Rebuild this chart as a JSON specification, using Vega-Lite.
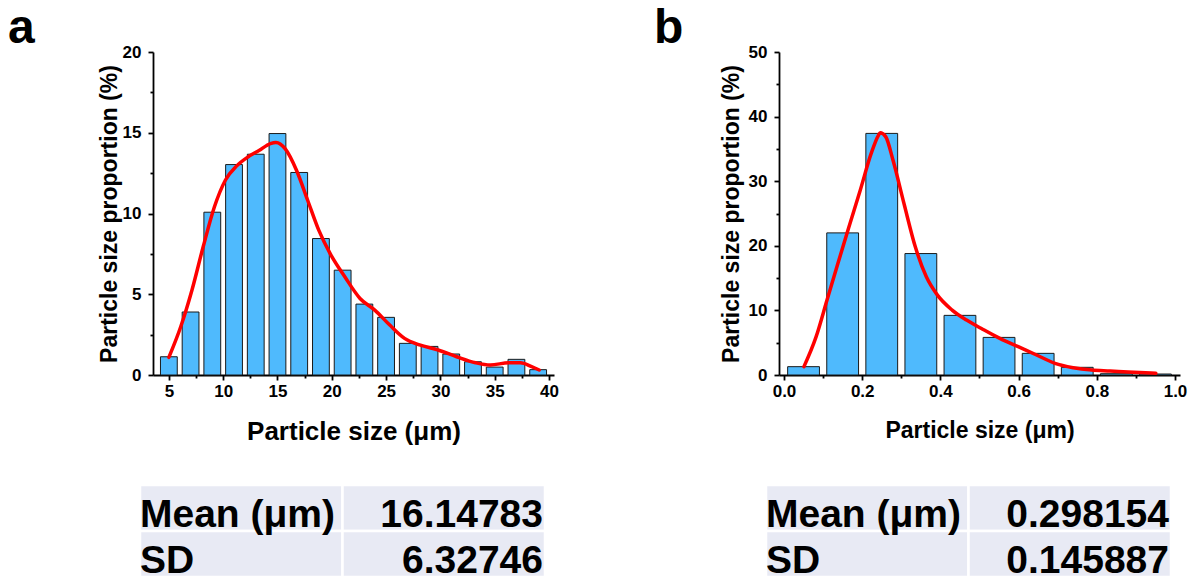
{
  "$schema": "https://vega.github.io/schema/vega-lite/v6.json",
  "background": "white",
  "padding": {"left": 8, "top": 5, "right": 5, "bottom": 0},
  "config": {
    "font": "Liberation Sans",
    "view": {"stroke": null},
    "title": {"fontSize": 48, "font": "Liberation Sans", "fontWeight": "bold", "anchor": "start", "frame": "bounds", "color": "black", "offset": -10},
    "axis": {
      "labelFont": "Liberation Sans", "labelFontWeight": "bold", "labelFontSize": 17, "labelColor": "black",
      "titleFont": "Liberation Sans", "titleFontWeight": "bold", "titleColor": "black",
      "domainColor": "black", "tickColor": "black", "domainWidth": 1.8, "tickWidth": 1.8, "tickSize": 5,
      "grid": false, "labelPadding": 3
    },
    "axisY": {"labelPadding": 7}
  },
  "spacing": 95,
  "hconcat": [
    {
      "title": {"text": "a", "dx": -90},
      "spacing": 39,
      "vconcat": [
        {
          "width": 401, "height": 323,
          "layer": [
            {
              "data": {"values": [
                {"size": 5, "pct": 1.13}, {"size": 7, "pct": 3.9}, {"size": 9, "pct": 10.08},
                {"size": 11, "pct": 13.03}, {"size": 13, "pct": 13.67}, {"size": 15, "pct": 14.95},
                {"size": 17, "pct": 12.54}, {"size": 19, "pct": 8.45}, {"size": 21, "pct": 6.49},
                {"size": 23, "pct": 4.39}, {"size": 25, "pct": 3.57}, {"size": 27, "pct": 1.96},
                {"size": 29, "pct": 1.77}, {"size": 31, "pct": 1.3}, {"size": 33, "pct": 0.82},
                {"size": 35, "pct": 0.49}, {"size": 37, "pct": 0.97}, {"size": 39, "pct": 0.33}
              ]},
              "mark": {"type": "bar", "width": 16.8, "fill": "#4FBAFD", "stroke": "#1a1a1a", "strokeWidth": 1},
              "encoding": {
                "x": {"field": "size", "type": "quantitative",
                  "scale": {"domain": [4, 40], "nice": false, "zero": false},
                  "axis": {"values": [5, 10, 15, 20, 25, 30, 35, 40], "title": "Particle size (μm)", "titleFontSize": 26, "titlePadding": 19}},
                "y": {"field": "pct", "type": "quantitative",
                  "scale": {"domain": [0, 20], "nice": false},
                  "axis": {"values": [0, 5, 10, 15, 20], "title": "Particle size proportion (%)", "titleFontSize": 23, "titlePadding": 1}}
              }
            },
            {
              "data": {"values": [
                {"x": 5.0, "y": 1.09}, {"x": 6.1, "y": 3.0}, {"x": 7.13, "y": 5.26}, {"x": 8.16, "y": 7.94},
                {"x": 9.19, "y": 10.4}, {"x": 10.2, "y": 12.06}, {"x": 11.25, "y": 12.95}, {"x": 12.28, "y": 13.5},
                {"x": 13.3, "y": 13.9}, {"x": 14.35, "y": 14.33}, {"x": 14.86, "y": 14.4}, {"x": 15.72, "y": 14.0},
                {"x": 16.75, "y": 12.68}, {"x": 17.78, "y": 10.82}, {"x": 18.8, "y": 8.97}, {"x": 19.84, "y": 7.53},
                {"x": 21.2, "y": 6.08}, {"x": 22.6, "y": 4.74}, {"x": 23.96, "y": 4.02}, {"x": 25.34, "y": 3.09},
                {"x": 26.7, "y": 2.27}, {"x": 28.08, "y": 1.86}, {"x": 29.8, "y": 1.55}, {"x": 31.5, "y": 1.13},
                {"x": 33.24, "y": 0.76}, {"x": 34.6, "y": 0.62}, {"x": 36.3, "y": 0.76}, {"x": 37.36, "y": 0.76},
                {"x": 38.4, "y": 0.52}, {"x": 39.1, "y": 0.31}
              ]},
              "mark": {"type": "line", "color": "#FF0000", "strokeWidth": 3.5, "interpolate": "monotone", "strokeCap": "round"},
              "encoding": {
                "x": {"field": "x", "type": "quantitative",
                  "axis": {"orient": "bottom", "values": [7.5, 12.5, 17.5, 22.5, 27.5, 32.5, 37.5], "labels": false, "domain": false, "title": null, "tickSize": 3}},
                "y": {"field": "y", "type": "quantitative",
                  "axis": {"orient": "left", "values": [2.5, 7.5, 12.5, 17.5], "labels": false, "domain": false, "title": null, "tickSize": 3}}
              }
            }
          ],
          "resolve": {"axis": {"x": "independent", "y": "independent"}}
        },
        {
          "width": 405, "height": 92,
          "data": {"values": [
            {"stat": "Mean (μm)", "value": "16.14783"},
            {"stat": "SD", "value": "6.32746"}
          ]},
          "layer": [
            {
              "transform": [{"fold": ["stat", "value"], "as": ["col", "txt"]}],
              "mark": {"type": "rect", "fill": "#E8EAF4", "stroke": "white", "strokeWidth": 2.5, "xOffset": -13},
              "encoding": {
                "x": {"field": "col", "type": "nominal", "scale": {"domain": ["stat", "value"], "paddingInner": 0, "paddingOuter": 0}, "axis": null},
                "y": {"field": "stat", "type": "nominal", "sort": null, "scale": {"paddingInner": 0, "paddingOuter": 0}, "axis": null}
              }
            },
            {
              "mark": {"type": "text", "align": "left", "baseline": "alphabetic", "fontSize": 39, "fontWeight": "bold", "color": "black", "xOffset": -13, "dy": 19},
              "encoding": {
                "x": {"datum": "stat", "type": "nominal", "bandPosition": 0},
                "y": {"field": "stat", "type": "nominal", "sort": null},
                "text": {"field": "stat"}
              }
            },
            {
              "mark": {"type": "text", "align": "right", "baseline": "alphabetic", "fontSize": 39, "fontWeight": "bold", "color": "black", "xOffset": -15, "dy": 19},
              "encoding": {
                "x": {"datum": "value", "type": "nominal", "bandPosition": 1},
                "y": {"field": "stat", "type": "nominal", "sort": null},
                "text": {"field": "value"}
              }
            }
          ]
        }
      ]
    },
    {
      "title": {"text": "b", "dx": -66},
      "spacing": 41,
      "vconcat": [
        {
          "width": 401, "height": 323,
          "layer": [
            {
              "data": {"values": [
                {"size": 0.05, "pct": 1.29}, {"size": 0.15, "pct": 22.0}, {"size": 0.25, "pct": 37.4},
                {"size": 0.35, "pct": 18.8}, {"size": 0.45, "pct": 9.23}, {"size": 0.55, "pct": 5.82},
                {"size": 0.65, "pct": 3.35}, {"size": 0.75, "pct": 1.19}, {"size": 0.85, "pct": 0.2},
                {"size": 0.95, "pct": 0.15}
              ]},
              "mark": {"type": "bar", "width": 31.8, "fill": "#4FBAFD", "stroke": "#1a1a1a", "strokeWidth": 1},
              "encoding": {
                "x": {"field": "size", "type": "quantitative",
                  "scale": {"domain": [0, 1], "nice": false, "zero": false},
                  "axis": {"values": [0, 0.2, 0.4, 0.6, 0.8, 1.0], "format": ".1f", "title": "Particle size (μm)", "titleFontSize": 23, "titlePadding": 20}},
                "y": {"field": "pct", "type": "quantitative",
                  "scale": {"domain": [0, 50], "nice": false},
                  "axis": {"values": [0, 10, 20, 30, 40, 50], "title": "Particle size proportion (%)", "titleFontSize": 23, "titlePadding": 5}}
              }
            },
            {
              "data": {"values": [
                {"x": 0.051, "y": 1.29}, {"x": 0.082, "y": 5.9}, {"x": 0.11, "y": 11.6}, {"x": 0.138, "y": 17.3},
                {"x": 0.166, "y": 22.9}, {"x": 0.195, "y": 28.6}, {"x": 0.223, "y": 34.3}, {"x": 0.2415, "y": 37.1},
                {"x": 0.246, "y": 37.5}, {"x": 0.26, "y": 36.9}, {"x": 0.279, "y": 33.2}, {"x": 0.307, "y": 26.5},
                {"x": 0.336, "y": 19.8}, {"x": 0.364, "y": 15.2}, {"x": 0.392, "y": 12.4}, {"x": 0.43, "y": 10.05},
                {"x": 0.467, "y": 8.5}, {"x": 0.505, "y": 7.2}, {"x": 0.552, "y": 5.67}, {"x": 0.599, "y": 4.38},
                {"x": 0.646, "y": 3.1}, {"x": 0.693, "y": 1.8}, {"x": 0.74, "y": 1.13}, {"x": 0.787, "y": 0.77},
                {"x": 0.834, "y": 0.62}, {"x": 0.88, "y": 0.46}, {"x": 0.951, "y": 0.26}
              ]},
              "mark": {"type": "line", "color": "#FF0000", "strokeWidth": 3.5, "interpolate": "monotone", "strokeCap": "round"},
              "encoding": {
                "x": {"field": "x", "type": "quantitative",
                  "axis": {"orient": "bottom", "values": [0.1, 0.3, 0.5, 0.7, 0.9], "labels": false, "domain": false, "title": null, "tickSize": 3}},
                "y": {"field": "y", "type": "quantitative",
                  "axis": {"orient": "left", "values": [5, 15, 25, 35, 45], "labels": false, "domain": false, "title": null, "tickSize": 3}}
              }
            }
          ],
          "resolve": {"axis": {"x": "independent", "y": "independent"}}
        },
        {
          "width": 405, "height": 92,
          "data": {"values": [
            {"stat": "Mean (μm)", "value": "0.298154"},
            {"stat": "SD", "value": "0.145887"}
          ]},
          "layer": [
            {
              "transform": [{"fold": ["stat", "value"], "as": ["col", "txt"]}],
              "mark": {"type": "rect", "fill": "#E8EAF4", "stroke": "white", "strokeWidth": 2.5, "xOffset": -13},
              "encoding": {
                "x": {"field": "col", "type": "nominal", "scale": {"domain": ["stat", "value"], "paddingInner": 0, "paddingOuter": 0}, "axis": null},
                "y": {"field": "stat", "type": "nominal", "sort": null, "scale": {"paddingInner": 0, "paddingOuter": 0}, "axis": null}
              }
            },
            {
              "mark": {"type": "text", "align": "left", "baseline": "alphabetic", "fontSize": 39, "fontWeight": "bold", "color": "black", "xOffset": -13, "dy": 19},
              "encoding": {
                "x": {"datum": "stat", "type": "nominal", "bandPosition": 0},
                "y": {"field": "stat", "type": "nominal", "sort": null},
                "text": {"field": "stat"}
              }
            },
            {
              "mark": {"type": "text", "align": "right", "baseline": "alphabetic", "fontSize": 39, "fontWeight": "bold", "color": "black", "xOffset": -15, "dy": 19},
              "encoding": {
                "x": {"datum": "value", "type": "nominal", "bandPosition": 1},
                "y": {"field": "stat", "type": "nominal", "sort": null},
                "text": {"field": "value"}
              }
            }
          ]
        }
      ]
    }
  ]
}
